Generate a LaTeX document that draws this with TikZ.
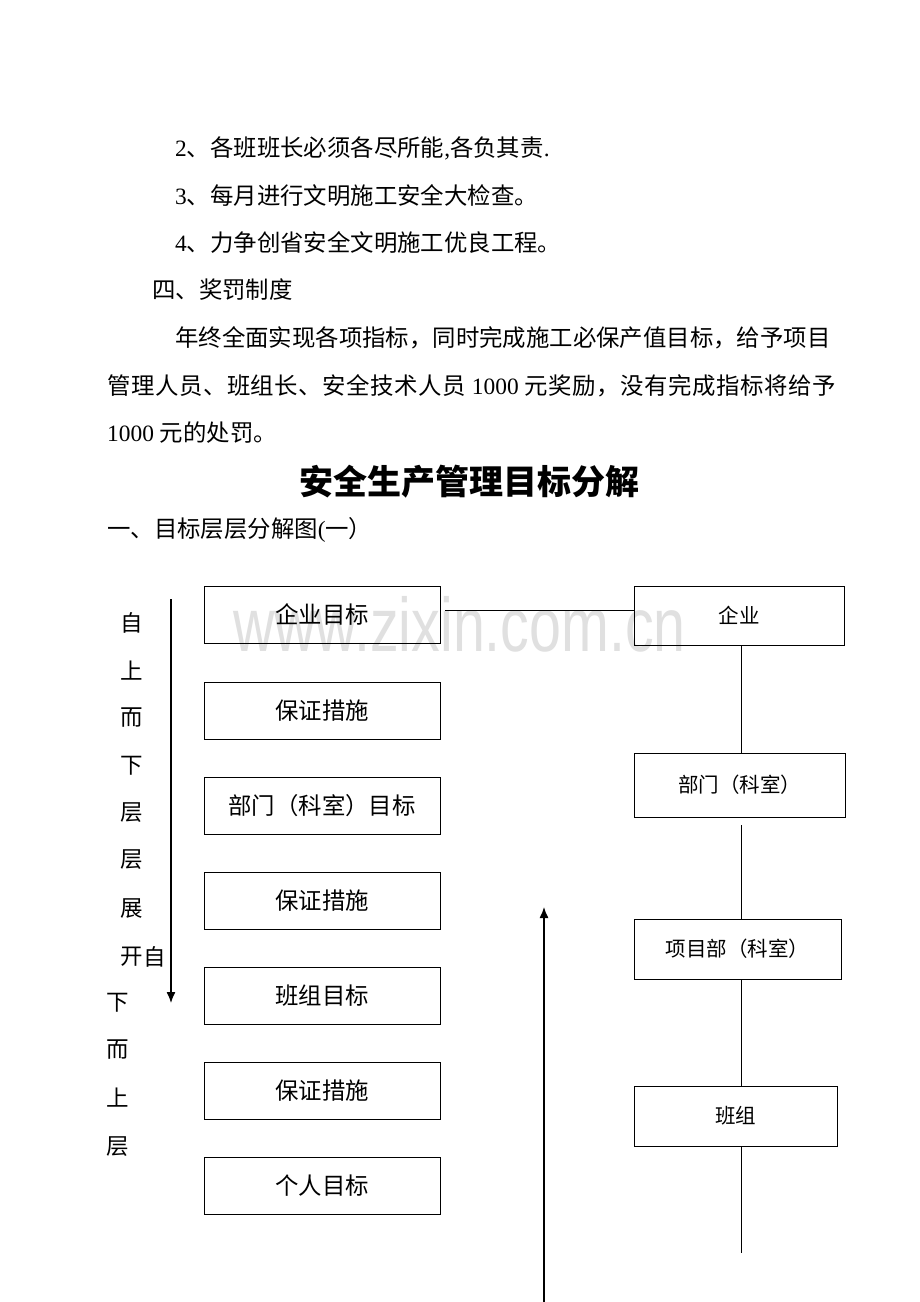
\documentclass[tikz,border=0pt]{standalone}
\usepackage{fontspec}
\setmainfont{Liberation Serif}
\setsansfont{Liberation Sans}
\newfontfamily\cjk{Noto Sans CJK SC}
\newfontfamily\cjkw{Noto Sans CJK SC}[LetterSpace=2.4]
\usetikzlibrary{arrows.meta}
\newcommand\latn[1]{{\rmfamily #1}}
\begin{document}
\begin{tikzpicture}[x=1pt,y=-1pt,
  body/.style={anchor=west, inner sep=0pt, font=\cjk\fontsize{23.4}{28}\selectfont},
  vch/.style={inner sep=0pt, font=\cjk\fontsize{22.5}{26}\selectfont},
  lbox/.style={draw, line width=1pt, minimum width=236pt, minimum height=57pt, inner sep=0pt, font=\cjk\fontsize{23.4}{28}\selectfont},
  rbox/.style={draw, line width=1pt, inner sep=0pt, font=\cjk\fontsize{20.5}{24}\selectfont},
  link/.style={line width=1pt},
  arr/.style={line width=1.3pt, -{Latex[length=11pt,width=9pt]}}
]
\useasboundingbox[fill=white] (0,0) rectangle (920,1302);

% watermark
\node[anchor=base, inner sep=0pt, text=black!12, font=\sffamily\fontsize{76}{80}\selectfont] (wm) at (459.5,651) {\scalebox{0.755}[1]{www.zixin.com.cn}};

% body text
\node[body] (t1) at (175,148) {\latn{2}、各班班长必须各尽所能\latn{,}各负其责\latn{.}};
\node[body] (t2) at (175,196) {\latn{3}、每月进行文明施工安全大检查。};
\node[body] (t3) at (175,243) {\latn{4}、力争创省安全文明施工优良工程。};
\node[body] (t4) at (152,290) {四、奖罚制度};
\node[body] (t5) at (175,338) {年终全面实现各项指标，同时完成施工必保产值目标，给予项目};
\node[body] (t6) at (107,386) {\cjkw 管理人员、班组长、安全技术人员\latn{ 1000 }元奖励，没有完成指标将给予};
\node[body] (t7) at (107,433) {\latn{1000 }元的处罚。};
\node[inner sep=0pt, font=\cjk\bfseries\fontsize{34}{40}\selectfont] (title) at (469,482) {安全生产管理目标分解};
\node[body] (t8) at (107,530) {一、目标层层分解图\latn{(}一）};

% left boxes
\node[lbox] (a1) at (322,614.5) {企业目标};
\node[lbox] (a2) at (322,710.5) {保证措施};
\node[lbox] (a3) at (322,805.5) {部门（科室）目标};
\node[lbox] (a4) at (322,900.5) {保证措施};
\node[lbox] (a5) at (322,995.5) {班组目标};
\node[lbox] (a6) at (322,1090.5) {保证措施};
\node[lbox] (a7) at (322,1186) {个人目标};

% right boxes
\node[rbox, minimum width=210pt, minimum height=59pt] (b1) at (739,615.5) {企业};
\node[rbox, minimum width=211pt, minimum height=64pt] (b2) at (739.5,785) {部门（科室）};
\node[rbox, minimum width=207pt, minimum height=60pt] (b3) at (737.5,949) {项目部（科室）};
\node[rbox, minimum width=203pt, minimum height=60pt] (b4) at (735.5,1116) {班组};

% connectors
\coordinate (h0) at (445,610);
\draw[link] (h0) -- (h0 -| b1.west);
\coordinate (vx) at (741,0);
\draw[link] (b1.south -| vx) -- (b2.north -| vx);
\coordinate (g1) at (741,825);
\draw[link] (g1) -- (b3.north -| g1);
\draw[link] (b3.south -| vx) -- (b4.north -| vx);
\coordinate (vend) at (741,1253);
\draw[link] (b4.south -| vx) -- (vend);

% arrows
\coordinate (d0) at (171,599);
\coordinate (d1) at (171,1003);
\draw[arr] (d0) -- (d1);
\coordinate (u0) at (544,1302);
\coordinate (u1) at (544,907);
\draw[arr] (u0) -- (u1);

% vertical text
\node[vch] (v1) at (132,623) {自};
\node[vch] (v2) at (132,671) {上};
\node[vch] (v3) at (132,718) {而};
\node[vch] (v4) at (132,766) {下};
\node[vch] (v5) at (132,813) {层};
\node[vch] (v6) at (132,860) {层};
\node[vch] (v7) at (132,908) {展};
\node[vch] (v8) at (132,957) {开};
\node[vch] (v9) at (155,957) {自};
\node[vch] (w1) at (118,1003) {下};
\node[vch] (w2) at (118,1050) {而};
\node[vch] (w3) at (118,1098) {上};
\node[vch] (w4) at (118,1147) {层};
\end{tikzpicture}
\end{document}
